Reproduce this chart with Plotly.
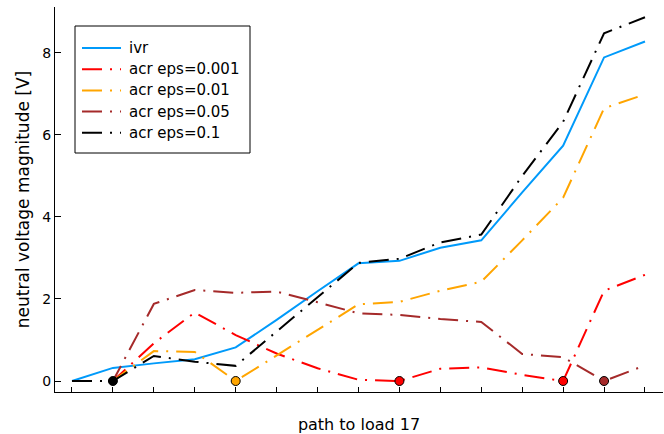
import plotly.graph_objects as go

x = list(range(1, 16))

ivr = [0.0, 0.32, 0.43, 0.53, 0.82, 1.49, 2.19, 2.87, 2.93, 3.25, 3.43, 4.60, 5.74, 7.89, 8.28]
acr_0001 = [0.0, 0.0, 0.92, 1.67, 1.12, 0.67, 0.31, 0.03, 0.0, 0.30, 0.33, 0.15, 0.0, 2.20, 2.59]
acr_001 = [0.0, 0.0, 0.73, 0.71, 0.0, 0.62, 1.25, 1.87, 1.93, 2.20, 2.42, 3.43, 4.47, 6.65, 6.99]
acr_005 = [0.0, 0.0, 1.88, 2.22, 2.15, 2.18, 1.92, 1.65, 1.61, 1.51, 1.44, 0.66, 0.58, 0.0, 0.38]
acr_01 = [0.0, 0.0, 0.61, 0.47, 0.37, 1.20, 2.03, 2.88, 2.98, 3.38, 3.57, 5.00, 6.32, 8.48, 8.87]

series_names = ["ivr", "acr eps=0.001", "acr eps=0.01", "acr eps=0.05", "acr eps=0.1"]
series_values = [ivr, acr_0001, acr_001, acr_005, acr_01]
series_colors = ["#009AFA", "red", "orange", "brown", "black"]

# highlighted points
marker_x = [2, 5, 9, 13, 14]
marker_y = [0.0, 0.0, 0.0, 0.0, 0.0]
marker_colors = ["black", "orange", "red", "red", "brown"]

y_ticks = [0, 2, 4, 6, 8]

FONT = "DejaVu Sans"
DASHDOT = "20px,8px,2px,8px"

# plot area in pixels
L, R, T, B = 55, 663, 7, 392
W, H = 664, 434


def px(xp):
    return (xp - L) / (R - L)


def py(yp):
    return (B - yp) / (B - T)


def dash_of(name):
    return "solid" if name == "ivr" else DASHDOT


fig = go.Figure()
for name, vals, col in zip(series_names, series_values, series_colors):
    fig.add_trace(go.Scatter(
        x=x, y=vals, mode="lines", name=name, showlegend=False,
        line=dict(color=col, width=2, dash=dash_of(name)),
    ))

fig.add_trace(go.Scatter(
    x=marker_x, y=marker_y, mode="markers", showlegend=False,
    marker=dict(color=marker_colors, size=9, line=dict(color="black", width=1)),
))

# legend drawn as shapes + text
shapes = [dict(type="rect", xref="paper", yref="paper",
               x0=px(75), x1=px(250), y0=py(153), y1=py(26),
               fillcolor="white", line=dict(color="black", width=1), layer="above")]
annotations = []
for i, (name, col) in enumerate(zip(series_names, series_colors)):
    yy = 48 + 21.2 * i
    shapes.append(dict(type="line", xref="paper", yref="paper",
                       x0=px(82), x1=px(121), y0=py(yy), y1=py(yy),
                       line=dict(color=col, width=2, dash=dash_of(name)), layer="above"))
    annotations.append(dict(text=name, xref="paper", yref="paper",
                            x=px(127), y=py(yy), xanchor="left", yanchor="middle",
                            showarrow=False, font=dict(family=FONT, size=15, color="black")))

fig.update_layout(
    width=W, height=H,
    margin=dict(l=L, r=W - R, t=T, b=H - B),
    plot_bgcolor="white", paper_bgcolor="white",
    font=dict(family=FONT, size=14, color="black"),
    showlegend=False,
    shapes=shapes, annotations=annotations,
)
fig.update_xaxes(
    range=[0.585, 15.44], showgrid=False, zeroline=False,
    showline=True, linecolor="black", linewidth=1,
    ticks="inside", ticklen=5, tickcolor="black",
    tickvals=x, showticklabels=False, automargin=False,
    title=dict(text="path to load 17", font=dict(size=16), standoff=26),
)
fig.update_yaxes(
    range=[-0.268, 9.12], showgrid=False, zeroline=False,
    showline=True, linecolor="black", linewidth=1,
    ticks="inside", ticklen=6, tickcolor="black",
    tickvals=y_ticks, ticktext=[str(v) for v in y_ticks],
    tickfont=dict(size=14), ticklabelstandoff=0, automargin=False,
    title=dict(text="neutral voltage magnitude [V]", font=dict(size=17), standoff=8),
)

fig.write_html("out.html", config={"displayModeBar": False},
               post_script="document.body.style.margin='0px';")
